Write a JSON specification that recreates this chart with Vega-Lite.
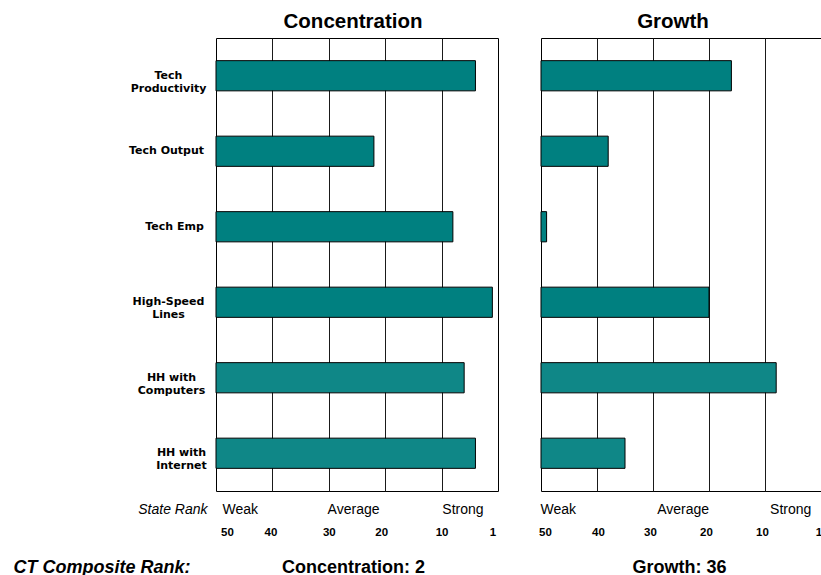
{
  "$schema": "https://vega.github.io/schema/vega-lite/v6.json",
  "padding": {"left": 12, "top": 11, "right": 0, "bottom": 0},
  "config": {
    "view": {"stroke": "#000", "strokeWidth": 1},
    "font": "Liberation Sans",
    "axis": {"labelColor": "#000", "titleColor": "#000"}
  },
  "datasets": {
    "ranks": [
      {"measure": "Tech Productivity", "concentration": 4, "growth": 16, "kind": "tech"},
      {"measure": "Tech Output", "concentration": 22, "growth": 38, "kind": "tech"},
      {"measure": "Tech Emp", "concentration": 8, "growth": 49, "kind": "tech"},
      {"measure": "High-Speed Lines", "concentration": 1, "growth": 20, "kind": "tech"},
      {"measure": "HH with Computers", "concentration": 6, "growth": 8, "kind": "household"},
      {"measure": "HH with Internet", "concentration": 4, "growth": 35, "kind": "household"}
    ]
  },
  "spacing": 39,
  "hconcat": [
    {
      "width": 282,
      "height": 453,
      "data": {"name": "ranks"},
      "title": {"text": "Concentration", "font": "Liberation Sans", "fontSize": 20.5, "fontWeight": "bold", "color": "#000", "baseline": "alphabetic", "offset": -10, "dx": -4},
      "resolve": {"axis": {"x": "independent"}},
      "layer": [
        {
          "mark": {"type": "bar", "strokeWidth": 0},
          "encoding": {
            "y": {
              "field": "measure", "type": "nominal", "sort": null,
              "scale": {"paddingInner": 0.6, "paddingOuter": 0.3},
              "axis": {
                "title": "CT Composite Rank:",
                "titleAngle": 0, "titleAlign": "left", "titleBaseline": "alphabetic",
                "titleX": -203, "titleY": 534,
                "titleFont": "Liberation Sans", "titleFontSize": 18, "titleFontWeight": "bold", "titleFontStyle": "italic",
                "domain": false, "ticks": false, "tickSize": 0,
                "labelFont": "DejaVu Sans", "labelFontWeight": "bold", "labelFontSize": 11, "labelLineHeight": 13,
                "labelAlign": "center", "labelBaseline": "middle",
                "labelPadding": {"condition": [
                  {"test": "datum.value == 'Tech Output'", "value": 50},
                  {"test": "datum.value == 'Tech Emp'", "value": 42},
                  {"test": "datum.value == 'HH with Computers'", "value": 45},
                  {"test": "datum.value == 'HH with Internet'", "value": 35}
                ], "value": 48},
                "labelExpr": "datum.label == 'Tech Productivity' ? ['Tech', 'Productivity'] : datum.label == 'High-Speed Lines' ? ['High-Speed', 'Lines'] : datum.label == 'HH with Computers' ? ['HH with', 'Computers'] : datum.label == 'HH with Internet' ? ['HH with', 'Internet'] : datum.label"
              }
            },
            "x": {
              "field": "concentration", "type": "quantitative",
              "scale": {"domain": [50, 0], "nice": false, "zero": false},
              "axis": {
                "orient": "bottom",
                "values": [50, 40, 30, 20, 10, 1],
                "domain": false, "ticks": false, "tickSize": 0,
                "grid": true, "gridColor": "#1a1a1a", "gridWidth": 1,
                "gridOpacity": {"condition": {"test": "datum.value == 50 || datum.value == 1", "value": 0}, "value": 1},
                "labelFont": "Liberation Sans", "labelFontWeight": "bold", "labelFontSize": 11.5,
                "labelBaseline": "alphabetic", "labelPadding": 44, "labelFlush": false, "labelOverlap": false,
                "labelOffset": {"condition": [
                  {"test": "datum.value == 50", "value": 11},
                  {"test": "datum.value == 40", "value": -2},
                  {"test": "datum.value == 20", "value": -4}
                ], "value": 0},
                "title": "Concentration: 2",
                "titleFont": "Liberation Sans", "titleFontSize": 18, "titleFontWeight": "bold",
                "titleBaseline": "alphabetic", "titleAlign": "center", "titleX": 137, "titleY": 81
              }
            },
            "x2": {"datum": 50},
            "color": {"field": "kind", "type": "nominal", "scale": {"domain": ["tech", "household"], "range": ["#008080", "#0f8787"]}, "legend": null}
          }
        },
        {
          "mark": {"type": "bar", "filled": false, "stroke": "#000", "strokeWidth": 1},
          "encoding": {
            "y": {"field": "measure", "type": "nominal", "sort": null},
            "x": {
              "field": "concentration", "type": "quantitative",
              "scale": {"domain": [50, 0], "nice": false, "zero": false},
              "axis": {
                "orient": "bottom",
                "values": [45.8, 25.7, 6.3],
                "labelExpr": "datum.value > 40 ? 'Weak' : datum.value > 15 ? 'Average' : 'Strong'",
                "domain": false, "ticks": false, "tickSize": 0, "grid": false,
                "labelFont": "Liberation Sans", "labelFontSize": 14,
                "labelBaseline": "alphabetic", "labelPadding": 22, "labelFlush": false, "labelOverlap": false,
                "title": "State Rank",
                "titleFont": "Liberation Sans", "titleFontSize": 14, "titleFontStyle": "italic", "titleFontWeight": "normal",
                "titleAlign": "right", "titleBaseline": "alphabetic", "titleX": -9, "titleY": 22
              }
            },
            "x2": {"datum": 50}
          }
        }
      ]
    },
    {
      "width": 280,
      "height": 453,
      "data": {"name": "ranks"},
      "title": {"text": "Growth", "font": "Liberation Sans", "fontSize": 20.5, "fontWeight": "bold", "color": "#000", "baseline": "alphabetic", "offset": -10, "dx": -8},
      "resolve": {"axis": {"x": "independent"}},
      "layer": [
        {
          "mark": {"type": "bar", "strokeWidth": 0},
          "encoding": {
            "y": {
              "field": "measure", "type": "nominal", "sort": null,
              "scale": {"paddingInner": 0.6, "paddingOuter": 0.3},
              "axis": null
            },
            "x": {
              "field": "growth", "type": "quantitative",
              "scale": {"domain": [50, 0], "nice": false, "zero": false},
              "axis": {
                "orient": "bottom",
                "values": [50, 40, 30, 20, 10, 1],
                "domain": false, "ticks": false, "tickSize": 0,
                "grid": true, "gridColor": "#1a1a1a", "gridWidth": 1,
                "gridOpacity": {"condition": {"test": "datum.value == 50 || datum.value == 1", "value": 0}, "value": 1},
                "labelFont": "Liberation Sans", "labelFontWeight": "bold", "labelFontSize": 11.5,
                "labelBaseline": "alphabetic", "labelPadding": 44, "labelFlush": false, "labelOverlap": false,
                "labelOffset": {"condition": [
                  {"test": "datum.value == 50", "value": 4},
                  {"test": "datum.value == 40", "value": 1},
                  {"test": "datum.value == 30", "value": -3},
                  {"test": "datum.value == 20", "value": -3},
                  {"test": "datum.value == 10", "value": -3},
                  {"test": "datum.value == 1", "value": 3}
                ], "value": 0},
                "title": "Growth: 36",
                "titleFont": "Liberation Sans", "titleFontSize": 18, "titleFontWeight": "bold",
                "titleBaseline": "alphabetic", "titleAlign": "center", "titleX": 138, "titleY": 81
              }
            },
            "x2": {"datum": 50},
            "color": {"field": "kind", "type": "nominal", "scale": {"domain": ["tech", "household"], "range": ["#008080", "#0f8787"]}, "legend": null}
          }
        },
        {
          "mark": {"type": "bar", "filled": false, "stroke": "#000", "strokeWidth": 1},
          "encoding": {
            "y": {"field": "measure", "type": "nominal", "sort": null, "axis": null},
            "x": {
              "field": "growth", "type": "quantitative",
              "scale": {"domain": [50, 0], "nice": false, "zero": false},
              "axis": {
                "orient": "bottom",
                "values": [47, 24.7, 5.5],
                "labelExpr": "datum.value > 40 ? 'Weak' : datum.value > 15 ? 'Average' : 'Strong'",
                "domain": false, "ticks": false, "tickSize": 0, "grid": false,
                "labelFont": "Liberation Sans", "labelFontSize": 14,
                "labelBaseline": "alphabetic", "labelPadding": 22, "labelFlush": false, "labelOverlap": false,
                "title": null
              }
            },
            "x2": {"datum": 50}
          }
        }
      ]
    }
  ]
}
